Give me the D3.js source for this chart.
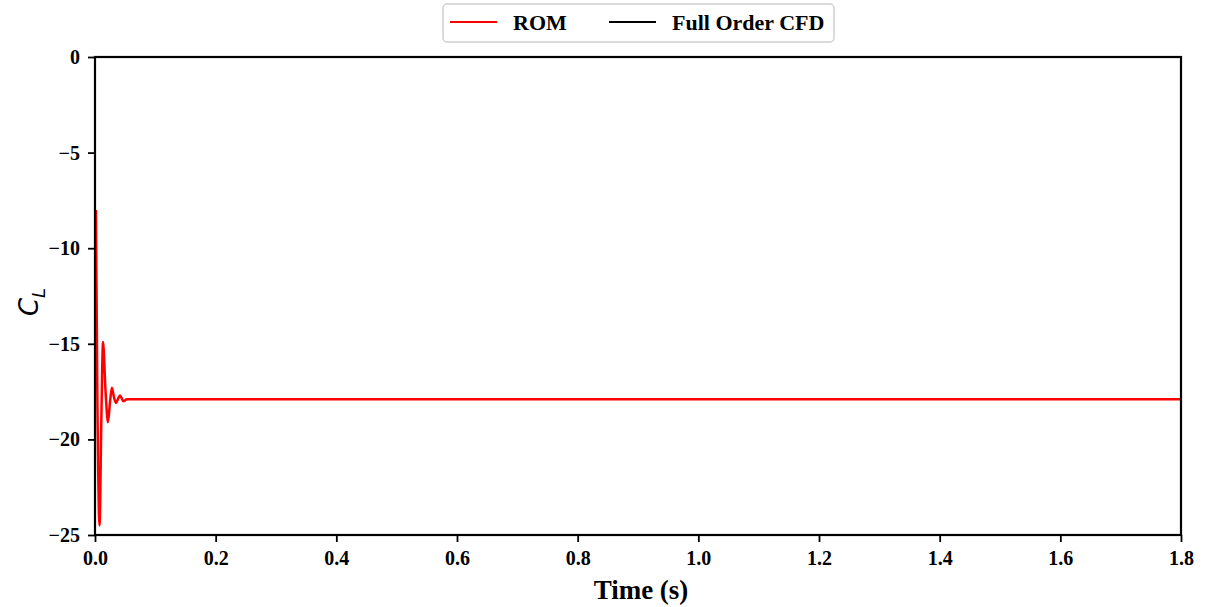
<!DOCTYPE html>
<html>
<head>
<meta charset="utf-8">
<script src="https://cdn.jsdelivr.net/npm/d3@7/dist/d3.min.js"></script>
<style>
  html, body { margin: 0; padding: 0; background: #fff; }
  svg { display: block; }
</style>
</head>
<body>
<svg id="chart" width="1207" height="607"></svg>
<script>
// ---- data ----
const romTime = [0.0015, 0.004, 0.0075, 0.0105, 0.0133, 0.0175, 0.0215, 0.025, 0.028, 0.0315, 0.035, 0.0385, 0.0415, 0.047, 0.053, 0.06, 0.2, 0.6, 1.0, 1.4, 1.8];
const romCL   = [-8.0, -18.0, -24.5, -19.0, -14.9, -17.5, -19.1, -18.0, -17.3, -17.8, -18.1, -17.85, -17.7, -18.0, -17.9, -17.9, -17.9, -17.9, -17.9, -17.9, -17.9];
const cfdTime = [0.0, 0.3, 0.6, 0.9, 1.2, 1.5, 1.8];
const cfdCL   = [0, 0, 0, 0, 0, 0, 0];
const xTicks = [0.0, 0.2, 0.4, 0.6, 0.8, 1.0, 1.2, 1.4, 1.6, 1.8];
const yTicks = [0, -5, -10, -15, -20, -25];
const seriesNames = ["ROM", "Full Order CFD"];
const seriesColors = ["#ff0000", "#000000"];

// ---- layout ----
const svg = d3.select("#chart");
const mL = 95, mR = 1181, mT = 57, mB = 535;
const x = d3.scaleLinear().domain([0, 1.8]).range([mL, mR]);
const y = d3.scaleLinear().domain([-25, 0]).range([mB, mT]);

const font = "'Liberation Serif', 'Times New Roman', serif";

// lines
const line = d3.line().x(d => x(d[0])).y(d => y(d[1])).curve(d3.curveMonotoneX);
svg.append("path")
  .datum(cfdTime.map((t, i) => [t, cfdCL[i]]))
  .attr("d", line).attr("fill", "none")
  .attr("stroke", seriesColors[1]).attr("stroke-width", 2);
svg.append("path")
  .datum(romTime.map((t, i) => [t, romCL[i]]))
  .attr("d", line).attr("fill", "none")
  .attr("stroke", seriesColors[0]).attr("stroke-width", 2.5)
  .attr("stroke-linejoin", "round");

// axes
const xAxis = d3.axisBottom(x).tickValues(xTicks).tickFormat(d3.format(".1f")).tickSize(7).tickPadding(9);
const yAxis = d3.axisLeft(y).tickValues(yTicks).tickFormat(d => d < 0 ? "\u2212" + Math.abs(d) : String(d)).tickSize(7).tickPadding(8);

const gx = svg.append("g").attr("transform", `translate(0,${mB})`).call(xAxis);
const gy = svg.append("g").attr("transform", `translate(${mL},0)`).call(yAxis);
[gx, gy].forEach(g => {
  g.select(".domain").remove();
  g.selectAll(".tick line").attr("stroke", "#000").attr("stroke-width", 1.8);
  g.selectAll(".tick text").attr("fill", "#000")
    .style("font-family", font).style("font-weight", "bold").style("font-size", "20px");
});

// frame
svg.append("rect").attr("x", mL).attr("y", mT)
  .attr("width", mR - mL).attr("height", mB - mT)
  .attr("fill", "none").attr("stroke", "#000").attr("stroke-width", 2.2);

// axis labels
svg.append("text").attr("x", (mL + mR) / 2 + 3).attr("y", 599)
  .attr("text-anchor", "middle")
  .style("font-family", font).style("font-weight", "bold").style("font-size", "27px")
  .text("Time (s)");

const yl = svg.append("text")
  .attr("transform", `translate(38,${(mT + mB) / 2 + 6}) rotate(-90)`)
  .attr("text-anchor", "middle")
  .style("font-family", "'DejaVu Sans', sans-serif").style("font-style", "italic").style("font-size", "26px");
yl.append("tspan").text("C");
yl.append("tspan").attr("dy", 7).style("font-size", "18px").text("L");

// legend
const lg = svg.append("g");
lg.append("rect").attr("x", 443).attr("y", 4).attr("width", 391).attr("height", 38)
  .attr("rx", 4).attr("fill", "#fff").attr("stroke", "#d0d0d0").attr("stroke-width", 1.5);
const legendItems = [
  { name: seriesNames[0], color: seriesColors[0], x0: 450 },
  { name: seriesNames[1], color: seriesColors[1], x0: 609 }
];
legendItems.forEach(it => {
  lg.append("line").attr("x1", it.x0).attr("x2", it.x0 + 47).attr("y1", 22).attr("y2", 22)
    .attr("stroke", it.color).attr("stroke-width", 2);
  lg.append("text").attr("x", it.x0 + 63).attr("y", 30)
    .style("font-family", font).style("font-weight", "bold").style("font-size", "22px")
    .attr("fill", "#000").text(it.name);
});
</script>
</body>
</html>
